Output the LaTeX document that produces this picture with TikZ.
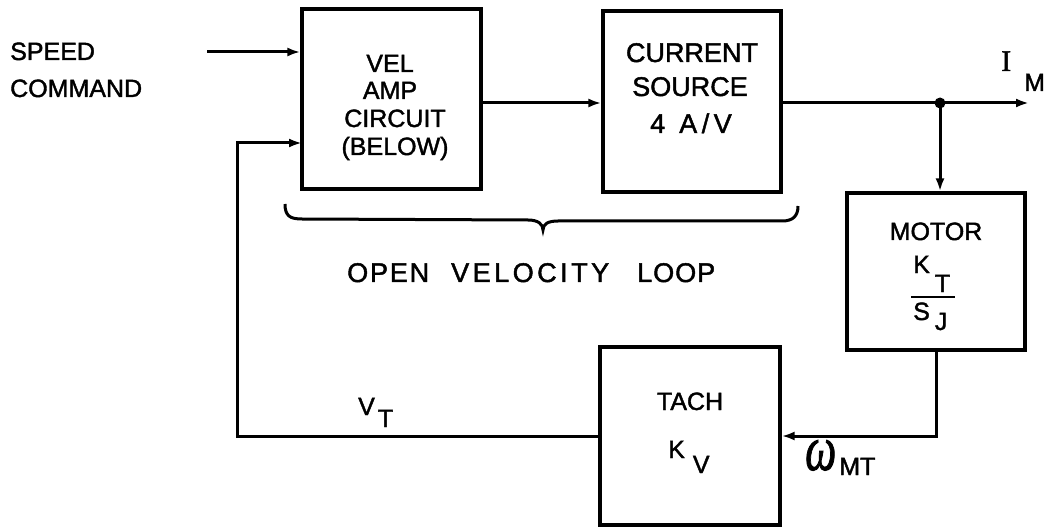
\documentclass[tikz,border=0pt]{standalone}
\usepackage{fontspec}
\setmainfont{Liberation Sans}[FakeBold=1.6]
\newfontfamily\serifI{Liberation Serif}[FakeBold=1.6]
\usepackage{graphicx}
\usetikzlibrary{arrows.meta,calc}
\begin{document}
\begin{tikzpicture}[x=1pt,y=-1pt,
  wire/.style={line width=3pt},
  arr/.style={wire,-{Latex[length=13pt,width=9pt]}},
  blk/.style={draw,line width=3.2pt,inner sep=0pt},
  lbl/.style={inner sep=0pt,anchor=base west,font=\addfontfeature{FakeBold=1.6}\fontsize{25}{25}\selectfont},
  clbl/.style={lbl,anchor=base},
  big/.style={font=\addfontfeature{FakeBold=1.6}\fontsize{27}{27}\selectfont}]
\useasboundingbox (0,0) rectangle (1049,529);

% blocks
\node[blk,minimum width=179pt,minimum height=180pt] (vel) at (391.5,99) {};
\node[blk,minimum width=178pt,minimum height=181pt] (cs) at (692,101.5) {};
\node[blk,minimum width=178pt,minimum height=157pt] (motor) at (936,271.5) {};
\node[blk,minimum width=180pt,minimum height=178pt] (tach) at (690,436) {};

% texts
\node[lbl] (speed) at (10,60) {SPEED};
\node[lbl] (command) at (10,97) {COMMAND};
\node[clbl] (vel1) at (390,72) {VEL};
\node[clbl] (vel2) at (390,99) {AMP};
\node[clbl] (vel3) at (395,127) {CIRCUIT};
\node[clbl] (vel4) at (395,155) {(BELOW)};
\node[clbl,big] (cs1) at (692,62) {CURRENT};
\node[clbl,big] (cs2) at (690,96) {SOURCE};
\node[clbl,big] (cs3) at (691,133) {4\hspace{14pt}A\,/\,V};
\node[clbl] (mot1) at (936,240) {MOTOR};
\node[lbl] (kt) at (913,273) {K\kern5pt\raisebox{-19pt}{T}};
\node[lbl] (sj) at (913,320) {S\kern5pt\raisebox{-10pt}{J}};
\draw[line width=2.6pt] (911,297) -- (955,297);
\node[clbl] (tach1) at (690,410) {TACH};
\node[lbl] (kv) at (668,458) {K\kern8pt\raisebox{-15pt}{V}};
\node[lbl] (wmt) at (805,470) {\scalebox{1}[1.45]{\serifI\itshape\fontsize{44}{44}\selectfont ω}\kern3pt\raisebox{-5pt}{MT}};
\node[lbl] (vt) at (358,415) {V\kern3pt\raisebox{-12pt}{T}};
\node[lbl] (im) at (1001,71) {{\serifI\fontsize{30}{30}\selectfont I}\kern13pt\raisebox{-20pt}{M}};
\node[lbl,big] (ovl) at (347,282) {\makebox[82pt][s]{O\hfill P\hfill E\hfill N}\hspace{22pt}\makebox[158pt][s]{V\hfill E\hfill L\hfill O\hfill C\hfill I\hfill T\hfill Y}\hspace{28pt}\makebox[78pt][s]{L\hfill O\hfill O\hfill P}};

% brace
\draw[line width=3pt] (285,204) .. controls (285,216) and (290,219) .. (302,219)
  -- (528,220) .. controls (538,220) and (543,224) .. (543,230)
  .. controls (543,224) and (548,221) .. (558,221)
  -- (782,221) .. controls (793,221) and (798,216) .. (798,206);

% connectors
\coordinate (sc) at (207,52);
\coordinate (m) at (0,103);
\coordinate (j) at (940,103);
\coordinate (out) at (1029,103);
\coordinate (fb) at (237,436);
\coordinate (fbin) at (302,143);

\draw[arr] (sc) -- (sc -| vel.west);
\draw[arr] (vel.east |- m) -- (cs.west |- m);
\draw[arr] (cs.east |- m) -- (out);
\draw[arr] (j) -- (j |- motor.north);
\fill (j) circle (5.5pt);
\draw[arr] (motor.south) -- (motor.south |- tach.east) -- (tach.east);
\draw[arr] (tach.west) -- (fb) |- (fbin);
\end{tikzpicture}
\end{document}
